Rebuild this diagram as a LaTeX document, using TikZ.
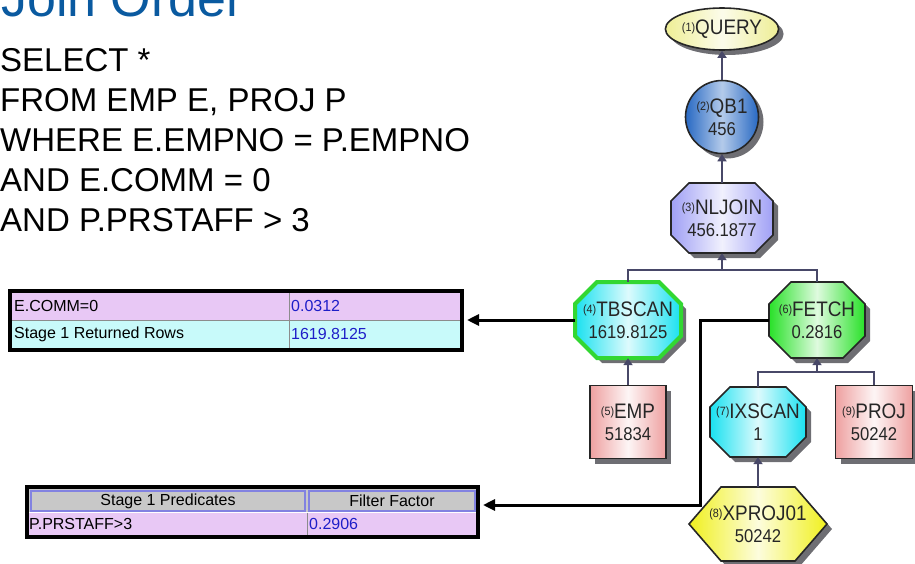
\documentclass[tikz,border=0pt]{standalone}
\usepackage{fontspec}
\setmainfont{Liberation Sans}
\newfontfamily\nodefont[FakeStretch=0.9]{Liberation Sans}
\usetikzlibrary{arrows.meta,shadows,shapes.geometric}
\definecolor{titleblue}{RGB}{10,90,160}
\definecolor{linkc}{RGB}{72,72,104}
\definecolor{shadowc}{RGB}{85,85,90}
\definecolor{qyel}{RGB}{238,238,150}
\definecolor{qblue}{RGB}{40,105,195}
\definecolor{lav}{RGB}{160,160,245}
\definecolor{cyanN}{RGB}{25,225,240}
\definecolor{greenN}{RGB}{40,225,40}
\definecolor{greenB}{RGB}{50,215,50}
\definecolor{pinkN}{RGB}{238,160,160}
\definecolor{yelN}{RGB}{240,240,30}
\definecolor{rowpink}{RGB}{232,200,245}
\definecolor{rowcyan}{RGB}{200,250,250}
\definecolor{hdrgray}{RGB}{200,200,200}
\definecolor{hdrline}{RGB}{130,130,225}
\definecolor{valblue}{RGB}{30,30,200}
\newcommand\octshape[6]{%
  \path[#1] (#2-#4+#6,#3-#5) -- (#2+#4-#6,#3-#5) -- (#2+#4,#3-#5+#6) -- (#2+#4,#3+#5-#6)
   -- (#2+#4-#6,#3+#5) -- (#2-#4+#6,#3+#5) -- (#2-#4,#3+#5-#6) -- (#2-#4,#3-#5+#6) -- cycle;}
\newcommand\hexshape[6]{%
  \path[#1] (#2-#4+#6,#3-#5) -- (#2+#4-#6,#3-#5) -- (#2+#4,#3) -- (#2+#4-#6,#3+#5)
   -- (#2-#4+#6,#3+#5) -- (#2-#4,#3) -- cycle;}
\newcommand\qlbl[2]{\raisebox{3pt}{\fontsize{12}{12}\selectfont(#1)}#2}
\newcommand\qnum[1]{{\fontsize{18.5}{22}\selectfont #1}}
\begin{document}
\begin{tikzpicture}[x=1pt,y=-1pt,
  gradm/.style n args={2}{left color=#1, right color=#1, middle color=#1!#2!white},
  nshadow/.style={drop shadow={shadow xshift=5pt,shadow yshift=-5pt,fill=shadowc,opacity=0.85}},
  nborder/.style={draw=black!85, line width=1.6pt},
  nodetxt/.style={font=\nodefont\fontsize{21}{22}\selectfont, align=center, text=black!85, inner sep=0pt},
  treearrow/.style={draw=linkc, line width=2.6pt, -{Triangle[width=9pt,length=7pt]}},
  bus/.style={draw=linkc, line width=2pt},
  blackarrow/.style={draw=black, line width=3pt, -{Triangle[width=11pt,length=12pt]}, shorten >=3pt},
  frame/.style={draw=black, line width=4pt, inner sep=0pt},
  cellline/.style={draw=black!45, line width=1pt},
  hdrcell/.style={draw=hdrline, line width=1.5pt},
  celltxt/.style={font=\fontsize{16}{16}\selectfont, inner sep=0pt},
  sqltxt/.style={font=\fontsize{33}{40}\selectfont, anchor=base west, inner sep=0pt}
]
\path[use as bounding box, clip] (0,0) rectangle (915,563);

% title and query text
\node[anchor=base west, inner sep=0pt, text=titleblue, font=\fontsize{52}{52}\selectfont] (title) at (1,16) {Join Order};
\node[sqltxt] (sql1) at (0,71) {SELECT *};
\node[sqltxt] (sql2) at (0,111) {FROM EMP E, PROJ P};
\node[sqltxt] (sql3) at (0,151) {WHERE E.EMPNO = P.EMPNO};
\node[sqltxt] (sql4) at (0,191) {AND E.COMM = 0};
\node[sqltxt] (sql5) at (0,231) {AND P.PRSTAFF > 3};

% table 1
\fill[rowpink] (12,292) rectangle (460,320);
\fill[rowcyan] (12,320) rectangle (460,348);
\draw[cellline] (289,292) -- (289,348);
\draw[cellline] (12,320) -- (460,320);
\node[frame, minimum width=452pt, minimum height=59pt] (t1) at (236,320) {};
\node[celltxt, anchor=west] (c11) at (14,306) {E.COMM=0};
\node[celltxt, anchor=west, text=valblue] (c12) at (291,306) {0.0312};
\node[celltxt, anchor=west] (c21) at (14,334) {Stage 1 Returned Rows};
\node[celltxt, anchor=west, text=valblue] (c22) at (291,334) {1619.8125};

% table 2
\fill[hdrgray] (29,489) rectangle (476,512);
\draw[hdrcell] (31,491) rectangle (305,511);
\draw[hdrcell] (309,491) rectangle (475,511);
\fill[rowpink] (29,512.5) rectangle (476,535);
\draw[cellline] (307,512.5) -- (307,535);
\node[frame, minimum width=451pt, minimum height=50pt] (t2) at (252.5,512) {};
\node[celltxt] (h1) at (168,501) {Stage 1 Predicates};
\node[celltxt] (h2) at (392,501) {Filter Factor};
\node[celltxt, anchor=west] (d1) at (29,524) {P.PRSTAFF>3};
\node[celltxt, anchor=west, text=valblue] (d2) at (309,524) {0.2906};

% tree shapes
\node[ellipse, minimum width=106pt, minimum height=42pt, gradm={qyel}{20}, nborder, nshadow, nodetxt] (query) at (722,29) {\qlbl{1}{QUERY}};
\node[circle, minimum size=73pt, gradm={qblue}{35}, nborder, nshadow, nodetxt] (qb1) at (722,117) {\qlbl{2}{QB1}\\\qnum{456}};

\octshape{gradm={lav}{15}, nborder, nshadow}{722}{218}{51}{35}{18}
\node[nodetxt, minimum width=102pt, minimum height=70pt] (nljoin) at (722,218) {\qlbl{3}{NLJOIN}\\\qnum{456.1877}};

\octshape{gradm={cyanN}{15}, draw=greenB, line width=4pt, nshadow}{628}{320}{53}{38}{22}
\node[nodetxt, minimum width=106pt, minimum height=76pt] (tbscan) at (628,320) {\qlbl{4}{TBSCAN}\\\qnum{1619.8125}};

\octshape{gradm={greenN}{15}, nborder, nshadow}{817}{320}{48}{38}{22}
\node[nodetxt, minimum width=96pt, minimum height=76pt] (fetch) at (817,320) {\qlbl{6}{FETCH}\\\qnum{0.2816}};

\node[rectangle, minimum width=76pt, minimum height=73pt, gradm={pinkN}{10}, nborder, nshadow, nodetxt] (emp) at (628,422) {\qlbl{5}{EMP}\\\qnum{51834}};

\octshape{gradm={cyanN}{15}, nborder, nshadow}{758}{422}{48}{35}{20}
\node[nodetxt, minimum width=96pt, minimum height=70pt] (ixscan) at (758,422) {\qlbl{7}{IXSCAN}\\\qnum{1}};

\node[rectangle, minimum width=77pt, minimum height=73pt, gradm={pinkN}{10}, nborder, nshadow, nodetxt] (proj) at (874,422) {\qlbl{9}{PROJ}\\\qnum{50242}};

\hexshape{gradm={yelN}{15}, nborder, nshadow}{758}{524}{69}{37}{32}
\node[nodetxt, minimum width=138pt, minimum height=74pt] (xproj) at (758,524) {\qlbl{8}{XPROJ01}\\\qnum{50242}};

% tree connectors
\coordinate (bus1) at (722,270);
\coordinate (bus2) at (817,372);
\draw[treearrow] (qb1) -- (query);
\draw[treearrow] (nljoin) -- (qb1);
\draw[bus] (tbscan.north) |- (bus1) -| (fetch.north);
\draw[treearrow] (bus1) -- (nljoin.south);
\draw[treearrow] (emp.north) -- (tbscan.south);
\draw[bus] (ixscan.north) |- (bus2) -| (proj.north);
\draw[treearrow] (bus2) -- (fetch.south);
\draw[treearrow] (xproj.north) -- (ixscan.south);

% links to tables
\coordinate (elbow) at (700,505);
\draw[blackarrow] (tbscan.west) -- (t1.east);
\draw[blackarrow] (fetch.west) -| (elbow) -- (elbow -| t2.east);
\end{tikzpicture}
\end{document}
